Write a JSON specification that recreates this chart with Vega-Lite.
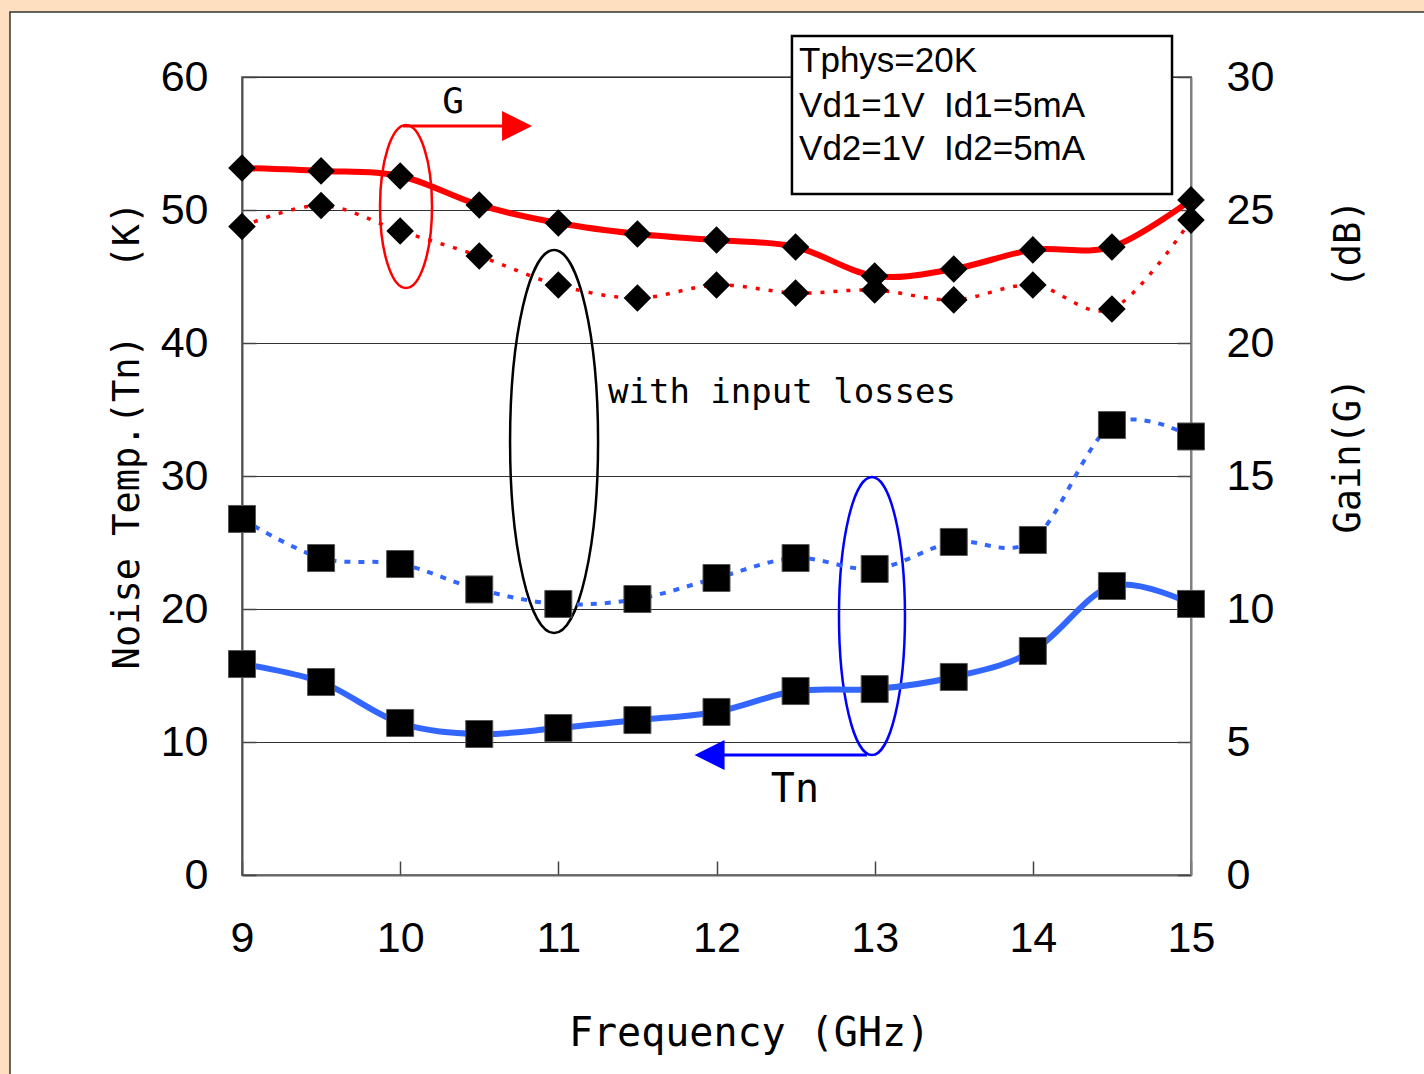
{
  "$schema": "https://vega.github.io/schema/vega-lite/v6.json",
  "width": 949,
  "height": 798,
  "autosize": {"type": "none"},
  "padding": {"left": 242, "top": 77, "right": 233, "bottom": 199},
  "background": "#ffffff",
  "config": {
    "view": {"stroke": "#808080", "strokeWidth": 2},
    "axis": {
      "labelFont": "Liberation Sans",
      "labelFontSize": 43,
      "labelColor": "#000000",
      "titleFont": "DejaVu Sans Mono",
      "titleFontWeight": "normal",
      "titleColor": "#000000",
      "tickSize": -14,
      "tickColor": "#444444",
      "tickWidth": 1.5,
      "domainColor": "#666666",
      "domainWidth": 2,
      "gridColor": "#333333",
      "gridWidth": 1,
      "labelFlush": false,
      "labelOverlap": false
    }
  },
  "datasets": {
    "tn": [
      {"freq": 9, "k": 15.86}, {"freq": 9.5, "k": 14.51}, {"freq": 10, "k": 11.43},
      {"freq": 10.5, "k": 10.6}, {"freq": 11, "k": 11.05}, {"freq": 11.5, "k": 11.65},
      {"freq": 12, "k": 12.26}, {"freq": 12.5, "k": 13.83}, {"freq": 13, "k": 13.98},
      {"freq": 13.5, "k": 14.89}, {"freq": 14, "k": 16.84}, {"freq": 14.5, "k": 21.73},
      {"freq": 15, "k": 20.38}
    ],
    "tnLoss": [
      {"freq": 9, "k": 26.77}, {"freq": 9.5, "k": 23.83}, {"freq": 10, "k": 23.38},
      {"freq": 10.5, "k": 21.47}, {"freq": 11, "k": 20.38}, {"freq": 11.5, "k": 20.75},
      {"freq": 12, "k": 22.33}, {"freq": 12.5, "k": 23.83}, {"freq": 13, "k": 23.01},
      {"freq": 13.5, "k": 25.04}, {"freq": 14, "k": 25.19}, {"freq": 14.5, "k": 33.83},
      {"freq": 15, "k": 32.97}
    ],
    "gain": [
      {"freq": 9, "db": 26.58}, {"freq": 9.5, "db": 26.47}, {"freq": 10, "db": 26.28},
      {"freq": 10.5, "db": 25.19}, {"freq": 11, "db": 24.51}, {"freq": 11.5, "db": 24.1},
      {"freq": 12, "db": 23.87}, {"freq": 12.5, "db": 23.61}, {"freq": 13, "db": 22.52},
      {"freq": 13.5, "db": 22.78}, {"freq": 14, "db": 23.5}, {"freq": 14.5, "db": 23.61},
      {"freq": 15, "db": 25.38}
    ],
    "gainLoss": [
      {"freq": 9, "db": 24.38}, {"freq": 9.5, "db": 25.17}, {"freq": 10, "db": 24.21},
      {"freq": 10.5, "db": 23.27}, {"freq": 11, "db": 22.18}, {"freq": 11.5, "db": 21.69},
      {"freq": 12, "db": 22.18}, {"freq": 12.5, "db": 21.88}, {"freq": 13, "db": 21.99},
      {"freq": 13.5, "db": 21.62}, {"freq": 14, "db": 22.18}, {"freq": 14.5, "db": 21.28},
      {"freq": 15, "db": 24.62}
    ],
    "boxText": [
      {"freq": 12.522, "k": 60.38, "label": "Tphys=20K"},
      {"freq": 12.522, "k": 56.99, "label": "Vd1=1V\u00a0\u00a0Id1=5mA"},
      {"freq": 12.522, "k": 53.76, "label": "Vd2=1V\u00a0\u00a0Id2=5mA"}
    ]
  },
  "layer": [
    {
      "layer": [
        {
          "data": {"values": [{"freq": 10.037, "k": 50.26}]},
          "mark": {"type": "point", "filled": false, "stroke": "#ff0000", "strokeWidth": 2.5, "opacity": 1, "size": 26569,
            "shape": "M-0.319,0C-0.319,-0.5523,-0.176,-1,0,-1C0.176,-1,0.319,-0.5523,0.319,0C0.319,0.5523,0.176,1,0,1C-0.176,1,-0.319,0.5523,-0.319,0Z"},
          "encoding": {
            "x": {"field": "freq", "type": "quantitative",
              "scale": {"domain": [9, 15], "nice": false, "zero": false},
              "axis": {"values": [9, 10, 11, 12, 13, 14, 15], "format": "d", "title": "Frequency (GHz)",
                "titleFontSize": 40, "titleX": 507, "titleY": 170, "titleBaseline": "alphabetic", "titleAlign": "center",
                "labelPadding": 56, "grid": false, "domainColor": "#666666"}},
            "y": {"field": "k", "type": "quantitative",
              "scale": {"domain": [0, 60], "nice": false, "zero": false},
              "axis": {"values": [0, 10, 20, 30, 40, 50, 60], "title": "Noise Temp.(Tn)\u00a0\u00a0\u00a0(K)",
                "titleFontSize": 37, "titleAngle": 270, "titleX": -104, "titleY": 358, "titleBaseline": "alphabetic", "titleAlign": "center",
                "labelPadding": 48, "grid": true, "domainColor": "#505050"}}
          }
        },
        {
          "data": {"values": [{"freq": 10.973, "k": 32.59}]},
          "mark": {"type": "point", "filled": false, "stroke": "#000000", "strokeWidth": 2.5, "opacity": 1, "size": 146689,
            "shape": "M-0.2298,0C-0.2298,-0.5523,-0.1269,-1,0,-1C0.1269,-1,0.2298,-0.5523,0.2298,0C0.2298,0.5523,0.1269,1,0,1C-0.1269,1,-0.2298,0.5523,-0.2298,0Z"},
          "encoding": {
            "x": {"field": "freq", "type": "quantitative"},
            "y": {"field": "k", "type": "quantitative"}
          }
        },
        {
          "data": {"values": [{"freq": 12.983, "k": 19.47}]},
          "mark": {"type": "point", "filled": false, "stroke": "#0000ff", "strokeWidth": 2.5, "opacity": 1, "size": 77284,
            "shape": "M-0.2374,0C-0.2374,-0.5523,-0.1311,-1,0,-1C0.1311,-1,0.2374,-0.5523,0.2374,0C0.2374,0.5523,0.1311,1,0,1C-0.1311,1,-0.2374,0.5523,-0.2374,0Z"},
          "encoding": {
            "x": {"field": "freq", "type": "quantitative"},
            "y": {"field": "k", "type": "quantitative"}
          }
        },
        {
          "data": {"values": [{}]},
          "mark": {"type": "rect", "fill": "#FEE0C0"},
          "encoding": {
            "x": {"datum": 5, "type": "quantitative"}, "x2": {"datum": 17},
            "y": {"datum": 64.89, "type": "quantitative"}, "y2": {"datum": 80}
          }
        },
        {
          "data": {"values": [{}]},
          "mark": {"type": "rect", "fill": "#FEE0C0"},
          "encoding": {
            "x": {"datum": 5, "type": "quantitative"}, "x2": {"datum": 7.533},
            "y": {"datum": -20, "type": "quantitative"}, "y2": {"datum": 80}
          }
        },
        {
          "data": {"values": [{}]},
          "mark": {"type": "rect", "fill": null, "fillOpacity": 0, "stroke": "#333333", "strokeWidth": 1.5},
          "encoding": {
            "x": {"datum": 7.533, "type": "quantitative"}, "x2": {"datum": 17},
            "y": {"datum": 64.89, "type": "quantitative"}, "y2": {"datum": -20}
          }
        },
        {
          "data": {"name": "tnLoss"},
          "mark": {"type": "line", "color": "#3366ff", "strokeWidth": 4, "strokeDash": [6, 8], "interpolate": "cardinal"},
          "encoding": {
            "x": {"field": "freq", "type": "quantitative"},
            "y": {"field": "k", "type": "quantitative"}
          }
        },
        {
          "data": {"name": "tn"},
          "mark": {"type": "line", "color": "#3366ff", "strokeWidth": 6, "interpolate": "cardinal"},
          "encoding": {
            "x": {"field": "freq", "type": "quantitative"},
            "y": {"field": "k", "type": "quantitative"}
          }
        },
        {
          "data": {"name": "tnLoss"},
          "mark": {"type": "point", "shape": "square", "filled": true, "fill": "#000000", "stroke": "#555555", "strokeWidth": 1, "opacity": 1, "size": 729},
          "encoding": {
            "x": {"field": "freq", "type": "quantitative"},
            "y": {"field": "k", "type": "quantitative"}
          }
        },
        {
          "data": {"name": "tn"},
          "mark": {"type": "point", "shape": "square", "filled": true, "fill": "#000000", "stroke": "#555555", "strokeWidth": 1, "opacity": 1, "size": 729},
          "encoding": {
            "x": {"field": "freq", "type": "quantitative"},
            "y": {"field": "k", "type": "quantitative"}
          }
        },
        {
          "data": {"values": [{}]},
          "mark": {"type": "rule", "color": "#ff0000", "strokeWidth": 3},
          "encoding": {
            "x": {"datum": 10.018, "type": "quantitative"}, "x2": {"datum": 10.68},
            "y": {"datum": 56.32, "type": "quantitative"}
          }
        },
        {
          "data": {"values": [{}]},
          "mark": {"type": "point", "filled": true, "fill": "#ff0000", "strokeWidth": 0, "opacity": 1, "size": 900, "shape": "M1,0L-1,-1L-1,1Z"},
          "encoding": {
            "x": {"datum": 10.739, "type": "quantitative"},
            "y": {"datum": 56.32, "type": "quantitative"}
          }
        },
        {
          "data": {"values": [{}]},
          "mark": {"type": "rule", "color": "#0000ff", "strokeWidth": 3},
          "encoding": {
            "x": {"datum": 12.0, "type": "quantitative"}, "x2": {"datum": 12.951},
            "y": {"datum": 9.02, "type": "quantitative"}
          }
        },
        {
          "data": {"values": [{}]},
          "mark": {"type": "point", "filled": true, "fill": "#0000ff", "strokeWidth": 0, "opacity": 1, "size": 900, "shape": "M-1,0L1,-1L1,1Z"},
          "encoding": {
            "x": {"datum": 11.956, "type": "quantitative"},
            "y": {"datum": 9.02, "type": "quantitative"}
          }
        },
        {
          "data": {"values": [{"freq": 10.334, "k": 57.29, "label": "G"}]},
          "mark": {"type": "text", "font": "DejaVu Sans Mono", "fontSize": 36, "align": "center", "baseline": "alphabetic", "color": "#000000"},
          "encoding": {
            "x": {"field": "freq", "type": "quantitative"},
            "y": {"field": "k", "type": "quantitative"},
            "text": {"field": "label"}
          }
        },
        {
          "data": {"values": [{"freq": 12.496, "k": 5.49, "label": "Tn"}]},
          "mark": {"type": "text", "font": "DejaVu Sans Mono", "fontSize": 40, "align": "center", "baseline": "alphabetic", "color": "#000000"},
          "encoding": {
            "x": {"field": "freq", "type": "quantitative"},
            "y": {"field": "k", "type": "quantitative"},
            "text": {"field": "label"}
          }
        },
        {
          "data": {"values": [{"freq": 11.314, "k": 35.5, "label": "with input losses"}]},
          "mark": {"type": "text", "font": "DejaVu Sans Mono", "fontSize": 34, "align": "left", "baseline": "alphabetic", "color": "#000000"},
          "encoding": {
            "x": {"field": "freq", "type": "quantitative"},
            "y": {"field": "k", "type": "quantitative"},
            "text": {"field": "label"}
          }
        },
        {
          "data": {"values": [{}]},
          "mark": {"type": "rect", "fill": "#ffffff", "stroke": "#000000", "strokeWidth": 2.5},
          "encoding": {
            "x": {"datum": 12.477, "type": "quantitative"}, "x2": {"datum": 14.88},
            "y": {"datum": 63.08, "type": "quantitative"}, "y2": {"datum": 51.2}
          }
        },
        {
          "data": {"name": "boxText"},
          "mark": {"type": "text", "font": "Liberation Sans", "fontSize": 35, "align": "left", "baseline": "alphabetic", "color": "#000000"},
          "encoding": {
            "x": {"field": "freq", "type": "quantitative"},
            "y": {"field": "k", "type": "quantitative"},
            "text": {"field": "label"}
          }
        }
      ]
    },
    {
      "layer": [
        {
          "data": {"name": "gainLoss"},
          "mark": {"type": "line", "color": "#ff0000", "strokeWidth": 3.5, "strokeDash": [4, 9], "interpolate": "cardinal"},
          "encoding": {
            "x": {"field": "freq", "type": "quantitative"},
            "y": {"field": "db", "type": "quantitative",
              "scale": {"domain": [0, 30], "nice": false, "zero": false},
              "axis": {"orient": "right", "values": [0, 5, 10, 15, 20, 25, 30], "title": "Gain(G)\u00a0\u00a0\u00a0\u00a0(dB)",
                "titleFontSize": 37, "titleAngle": 270, "titleX": 168, "titleY": 289, "titleBaseline": "alphabetic", "titleAlign": "center",
                "labelPadding": 49, "grid": false, "domainColor": "#808080"}}
          }
        },
        {
          "data": {"name": "gain"},
          "mark": {"type": "line", "color": "#ff0000", "strokeWidth": 6, "interpolate": "cardinal"},
          "encoding": {
            "x": {"field": "freq", "type": "quantitative"},
            "y": {"field": "db", "type": "quantitative"}
          }
        },
        {
          "data": {"name": "gainLoss"},
          "mark": {"type": "point", "shape": "diamond", "filled": true, "fill": "#000000", "strokeWidth": 0, "opacity": 1, "size": 760},
          "encoding": {
            "x": {"field": "freq", "type": "quantitative"},
            "y": {"field": "db", "type": "quantitative"}
          }
        },
        {
          "data": {"name": "gain"},
          "mark": {"type": "point", "shape": "diamond", "filled": true, "fill": "#000000", "strokeWidth": 0, "opacity": 1, "size": 760},
          "encoding": {
            "x": {"field": "freq", "type": "quantitative"},
            "y": {"field": "db", "type": "quantitative"}
          }
        }
      ]
    }
  ],
  "resolve": {"scale": {"y": "independent"}}
}
